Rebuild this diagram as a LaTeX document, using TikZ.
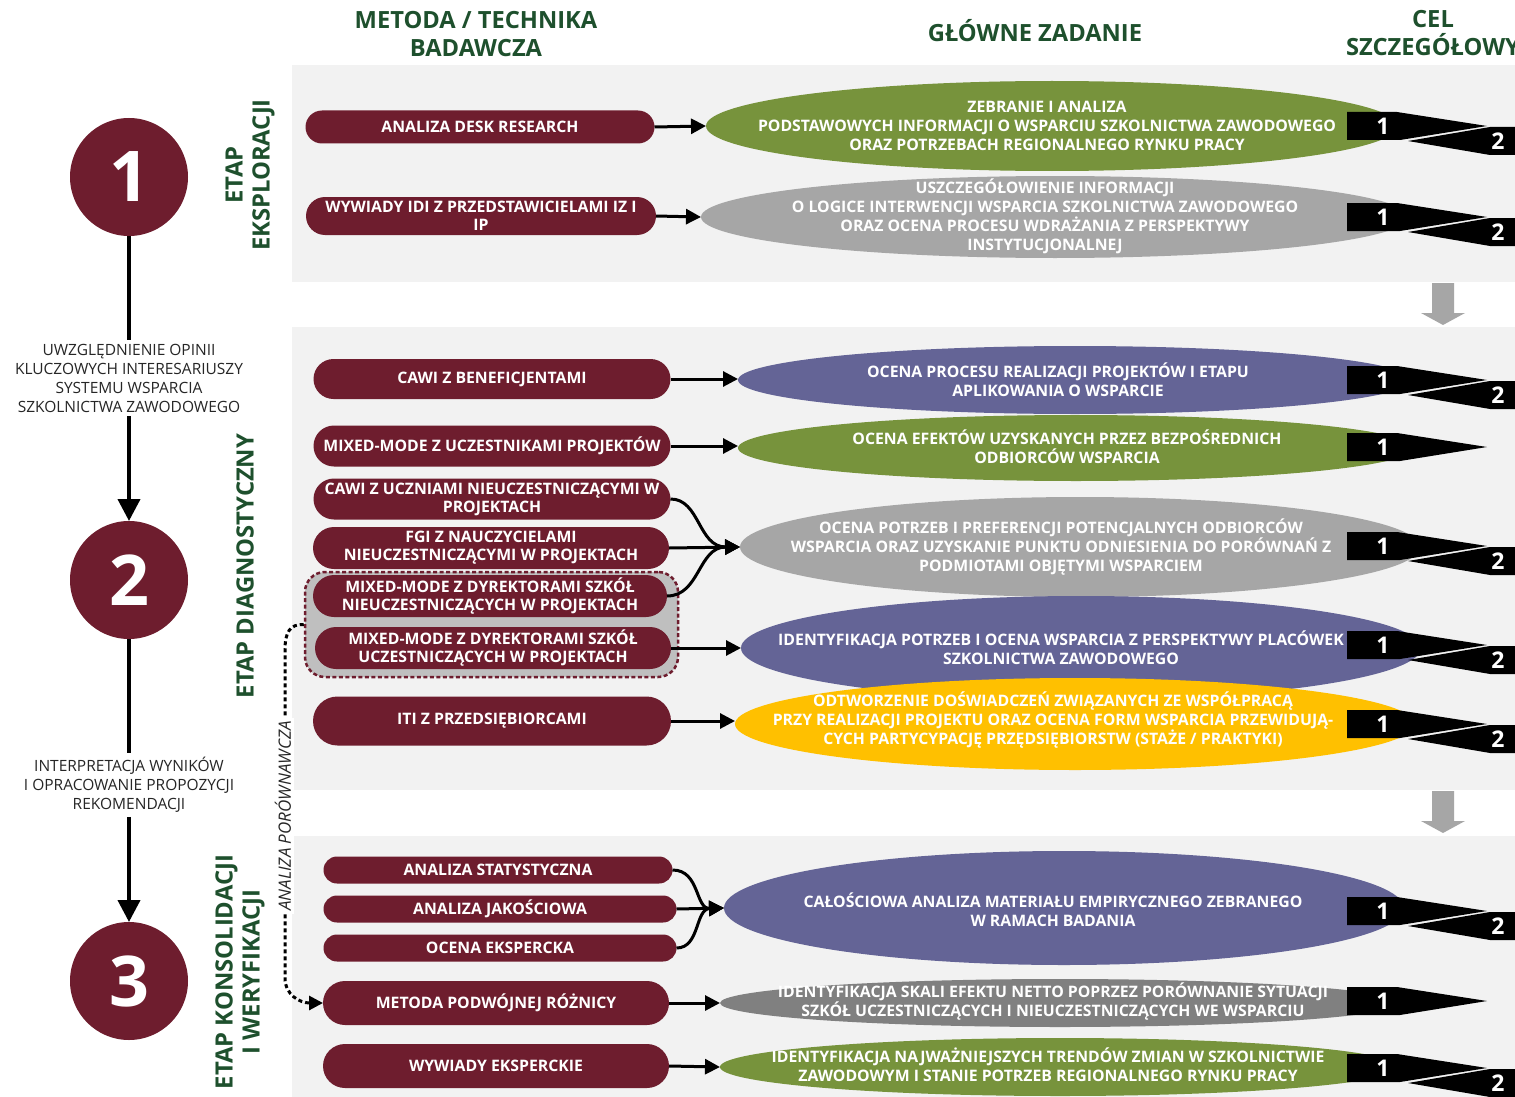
\documentclass[tikz,border=0pt]{standalone}
\usepackage{fontspec}
\setmainfont{Open Sans}
\usetikzlibrary{arrows.meta,shapes.geometric}
\definecolor{cmaroon}{RGB}{110,29,46}
\definecolor{chdr}{RGB}{30,80,45}
\definecolor{colive}{RGB}{119,147,60}
\definecolor{cgrayell}{RGB}{166,166,166}
\definecolor{cdgray}{RGB}{128,128,128}
\definecolor{cpurple}{RGB}{100,100,150}
\definecolor{cyellow}{RGB}{255,192,0}
\definecolor{cpanel}{RGB}{242,242,242}
\definecolor{cbox}{RGB}{191,191,191}
\newcommand\pillfont{\bfseries\fontsize{15.8}{18}\selectfont}
\newcommand\elfont{\bfseries\fontsize{15.8}{19}\selectfont}
\newcommand\flagsOne[2]{%
 \fill[black] (1347,{#2-14}) -- (1397,{#2-14}) -- (1487,#2) -- (1400,{#2+14}) -- (1347,{#2+14}) -- cycle;
 \node[flagnum] (#1a) at (1383,#2) {1};}
\newcommand\flagsTwo[2]{%
 \fill[black] (1408,{#2+15}) -- (1490,{#2+1}) -- (1530,{#2+1}) -- (1530,{#2+29}) -- (1490,{#2+29}) -- cycle;
 \node[flagnum] (#1b) at (1498,{#2+15}) {2};}
\begin{document}
\begin{tikzpicture}[x=1pt,y=-1pt,
  pill/.style n args={3}{fill=cmaroon, text=white, minimum width=#1pt, minimum height=#2pt, rounded corners=#3pt, inner sep=0pt, outer sep=0pt, align=center, font=\pillfont},
  ell/.style n args={3}{ellipse, fill=#1, minimum width=#2pt, minimum height=#3pt, inner sep=0pt, outer sep=0pt},
  etext/.style={text=white, align=center, font=\elfont, inner sep=0pt},
  flagnum/.style={text=white, font=\bfseries\fontsize{23}{23}\selectfont, inner sep=0pt},
  conn/.style={line width=3pt, -{Triangle[length=15pt,width=15pt]}},
  dconn/.style={line width=3pt, dash pattern=on 4pt off 3pt, -{Triangle[length=14pt,width=14pt]}},
  vline/.style={line width=4pt},
  varr/.style={line width=4pt, -{Triangle[length=22pt,width=22pt]}},
  circ/.style={circle, fill=cmaroon, minimum size=118pt, inner sep=0pt, outer sep=0pt, text=white, font=\bfseries\fontsize{70}{70}\selectfont},
  ltext/.style={align=center, font=\fontsize{15.5}{19}\selectfont, text=black!85, inner sep=4pt},
  hdr/.style={text=chdr, font=\bfseries\fontsize{23.7}{28}\selectfont, align=center, inner sep=0pt},
  stage/.style={text=chdr, font=\bfseries\fontsize{23.8}{27}\selectfont, align=center, rotate=90, inner sep=0pt},
  dbox/.style={draw=cmaroon, fill=cbox, line width=2.5pt, dash pattern=on 4pt off 2.5pt, rounded corners=20pt, minimum width=373pt, minimum height=105pt, inner sep=0pt},
  garrow/.style={fill=cgrayell}
]
\useasboundingbox (0,0) rectangle (1515,1097);
\clip (0,0) rectangle (1515,1097);
\fill[white] (0,0) rectangle (1515,1097);
% panels
\fill[cpanel] (292,65) rectangle (1515,282);
\fill[cpanel] (292,327) rectangle (1515,790);
\fill[cpanel] (292,836) rectangle (1515,1097);
% gray down arrows
\fill[garrow] (1432,283) -- (1454,283) -- (1454,313) -- (1465,313) -- (1443,325) -- (1421,313) -- (1432,313) -- cycle;
\fill[garrow] (1432,791) -- (1454,791) -- (1454,821) -- (1465,821) -- (1443,833) -- (1421,821) -- (1432,821) -- cycle;
% headers
\node[hdr] (h1) at (476,34) {METODA / TECHNIKA\\BADAWCZA};
\node[hdr] (h2) at (1035,31) {GŁÓWNE ZADANIE};
\node[hdr] (h3) at (1433,33) {CEL\\SZCZEGÓŁOWY};
% stage labels
\node[stage] (s1) at (250,175) {ETAP\\EKSPLORACJI};
\node[stage] (s2) at (245,566) {ETAP DIAGNOSTYCZNY};
\node[stage] (s3) at (240,972) {ETAP KONSOLIDACJI\\I WERYFIKACJI};
% left column
\node[circ] (c1) at (129,177) {1};
\node[circ] (c2) at (129,580) {2};
\node[circ] (c3) at (129,981) {3};
\node[ltext] (t1) at (129,378) {UWZGLĘDNIENIE OPINII\\KLUCZOWYCH INTERESARIUSZY\\SYSTEMU WSPARCIA\\SZKOLNICTWA ZAWODOWEGO};
\node[ltext] (t2) at (129,785) {INTERPRETACJA WYNIKÓW\\I OPRACOWANIE PROPOZYCJI\\REKOMENDACJI};
\draw[vline] (c1.south) -- (t1.north);
\draw[varr] (t1.south) -- (c2.north);
\draw[vline] (c2.south) -- (t2.north);
\draw[varr] (t2.south) -- (c3.north);
% dotted group box
\node[dbox] (dbox) at (491.5,624.5) {};
% pills
\node[pill={349}{33}{16.5}] (p1) at (480,127) {ANALIZA DESK RESEARCH};
\node[pill={350}{38}{19}] (p2) at (481,216) {WYWIADY IDI Z PRZEDSTAWICIELAMI IZ I\\IP};
\node[pill={357}{40}{20}] (p3) at (492,379) {CAWI Z BENEFICJENTAMI};
\node[pill={357}{41}{20.5}] (p4) at (492,446) {MIXED-MODE Z UCZESTNIKAMI PROJEKTÓW};
\node[pill={357}{41}{20.5}] (p5) at (492,499) {CAWI Z UCZNIAMI NIEUCZESTNICZĄCYMI W\\PROJEKTACH};
\node[pill={356}{42}{21}] (p6) at (491,548) {FGI Z NAUCZYCIELAMI\\NIEUCZESTNICZĄCYMI W PROJEKTACH};
\node[pill={354}{42}{21}] (p7) at (490,596) {MIXED-MODE Z DYREKTORAMI SZKÓŁ\\NIEUCZESTNICZĄCYCH W PROJEKTACH};
\node[pill={356}{42}{21}] (p8) at (493,648) {MIXED-MODE Z DYREKTORAMI SZKÓŁ\\UCZESTNICZĄCYCH W PROJEKTACH};
\node[pill={358}{49}{24.5}] (p9) at (492,721) {ITI Z PRZEDSIĘBIORCAMI};
\node[pill={349}{27}{13.5}] (p10) at (498,870) {ANALIZA STATYSTYCZNA};
\node[pill={353}{27}{13.5}] (p11) at (500,909) {ANALIZA JAKOŚCIOWA};
\node[pill={353}{27}{13.5}] (p12) at (500,948) {OCENA EKSPERCKA};
\node[pill={346}{44}{22}] (p13) at (496,1003) {METODA PODWÓJNEJ RÓŻNICY};
\node[pill={346}{44}{22}] (p14) at (496,1066) {WYWIADY EKSPERCKIE};
% dashed comparison connector
\coordinate (dk1) at (285,650);
\coordinate (dk2) at (285,978);
\draw[dconn] (dbox.west) .. controls (290,624) and (285,632) .. (dk1) -- (dk2) .. controls (285,995) and (300,1003) .. (p13.west);
\node[rotate=90, fill=white, font=\itshape\fontsize{17}{17}\selectfont, inner sep=3pt, text=black!85] (ap) at (283,816) {ANALIZA PORÓWNAWCZA};
% ellipses
\node[ell={colive}{692}{90}] (e1) at (1052,126) {};
\node[etext] (e1t) at (1047,126) {ZEBRANIE I ANALIZA\\PODSTAWOWYCH INFORMACJI O WSPARCIU SZKOLNICTWA ZAWODOWEGO\\ORAZ POTRZEBACH REGIONALNEGO RYNKU PRACY};
\node[ell={cgrayell}{708}{82}] (e2) at (1055,217) {};
\node[etext] (e2t) at (1045,216) {USZCZEGÓŁOWIENIE INFORMACJI\\O LOGICE INTERWENCJI WSPARCIA SZKOLNICTWA ZAWODOWEGO\\ORAZ OCENA PROCESU WDRAŻANIA Z PERSPEKTYWY\\INSTYTUCJONALNEJ};
\node[ell={cpurple}{674}{68}] (e3) at (1075,380) {};
\node[etext] (e3t) at (1058,380) {OCENA PROCESU REALIZACJI PROJEKTÓW I ETAPU\\APLIKOWANIA O WSPARCIE};
\node[ell={colive}{676}{66}] (e4) at (1076,448) {};
\node[etext] (e4t) at (1067,447) {OCENA EFEKTÓW UZYSKANYCH PRZEZ BEZPOŚREDNICH\\ODBIORCÓW WSPARCIA};
\node[ell={cgrayell}{680}{100}] (e5) at (1080,547) {};
\node[etext] (e5t) at (1061,547) {OCENA POTRZEB I PREFERENCJI POTENCJALNYCH ODBIORCÓW\\WSPARCIA ORAZ UZYSKANIE PUNKTU ODNIESIENIA DO PORÓWNAŃ Z\\PODMIOTAMI OBJĘTYMI WSPARCIEM};
\node[ell={cpurple}{680}{104}] (e6) at (1081,648) {};
\node[etext] (e6t) at (1061,648) {IDENTYFIKACJA POTRZEB I OCENA WSPARCIA Z PERSPEKTYWY PLACÓWEK\\SZKOLNICTWA ZAWODOWEGO};
\node[ell={cyellow}{680}{92}] (e7) at (1075,724) {};
\node[etext] (e7t) at (1053,720) {ODTWORZENIE DOŚWIADCZEŃ ZWIĄZANYCH ZE WSPÓŁPRACĄ\\PRZY REALIZACJI PROJEKTU ORAZ OCENA FORM WSPARCIA PRZEWIDUJĄ-\\CYCH PARTYCYPACJĘ PRZĘDSIĘBIORSTW (STAŻE / PRAKTYKI)};
\node[ell={cpurple}{680}{114}] (e8) at (1064,908) {};
\node[etext] (e8t) at (1053,910) {CAŁOŚCIOWA ANALIZA MATERIAŁU EMPIRYCZNEGO ZEBRANEGO\\W RAMACH BADANIA};
\node[ell={cdgray}{680}{48}] (e9) at (1060,1003) {};
\node[etext] (e9t) at (1053,1002) {IDENTYFIKACJA SKALI EFEKTU NETTO POPRZEZ PORÓWNANIE SYTUACJI\\SZKÓŁ UCZESTNICZĄCYCH I NIEUCZESTNICZĄCYCH WE WSPARCIU};
\node[ell={colive}{680}{58}] (e10) at (1060,1067) {};
\node[etext] (e10t) at (1048,1065) {IDENTYFIKACJA NAJWAŻNIEJSZYCH TRENDÓW ZMIAN W SZKOLNICTWIE\\ZAWODOWYM I STANIE POTRZEB REGIONALNEGO RYNKU PRACY};
% flags
\flagsTwo{fa}{126}\flagsOne{fa}{126}
\flagsTwo{fb}{217}\flagsOne{fb}{217}
\flagsTwo{fc}{380}\flagsOne{fc}{380}
\flagsOne{fd}{447}
\flagsTwo{fe}{546}\flagsOne{fe}{546}
\flagsTwo{ff}{645}\flagsOne{ff}{645}
\flagsTwo{fg}{724}\flagsOne{fg}{724}
\flagsTwo{fh}{911}\flagsOne{fh}{911}
\flagsOne{fi}{1001}
\flagsTwo{fj}{1068}\flagsOne{fj}{1068}
% connectors
\draw[conn] (p1.east) -- (e1.west);
\draw[conn] (p2.east) -- (e2.west);
\draw[conn] (p3.east) -- (p3.east -| e3.west);
\draw[conn] (p4.east) -- (p4.east -| e4.west);
\draw[conn] (p5.east) .. controls (700,499) and (698,547) .. (e5.west);
\draw[conn] (p6.east) -- (e5.west);
\draw[conn] (p7.east) .. controls (700,596) and (698,547) .. (e5.west);
\draw[conn] (p8.east) -- (e6.west);
\draw[conn] (p9.east) -- (p9.east -| e7.west);
\draw[conn] (p10.east) .. controls (700,870) and (695,909) .. (e8.west);
\draw[conn] (p11.east) -- (e8.west);
\draw[conn] (p12.east) .. controls (700,948) and (695,909) .. (e8.west);
\draw[conn] (p13.east) -- (e9.west);
\draw[conn] (p14.east) -- (e10.west);
\end{tikzpicture}
\end{document}
